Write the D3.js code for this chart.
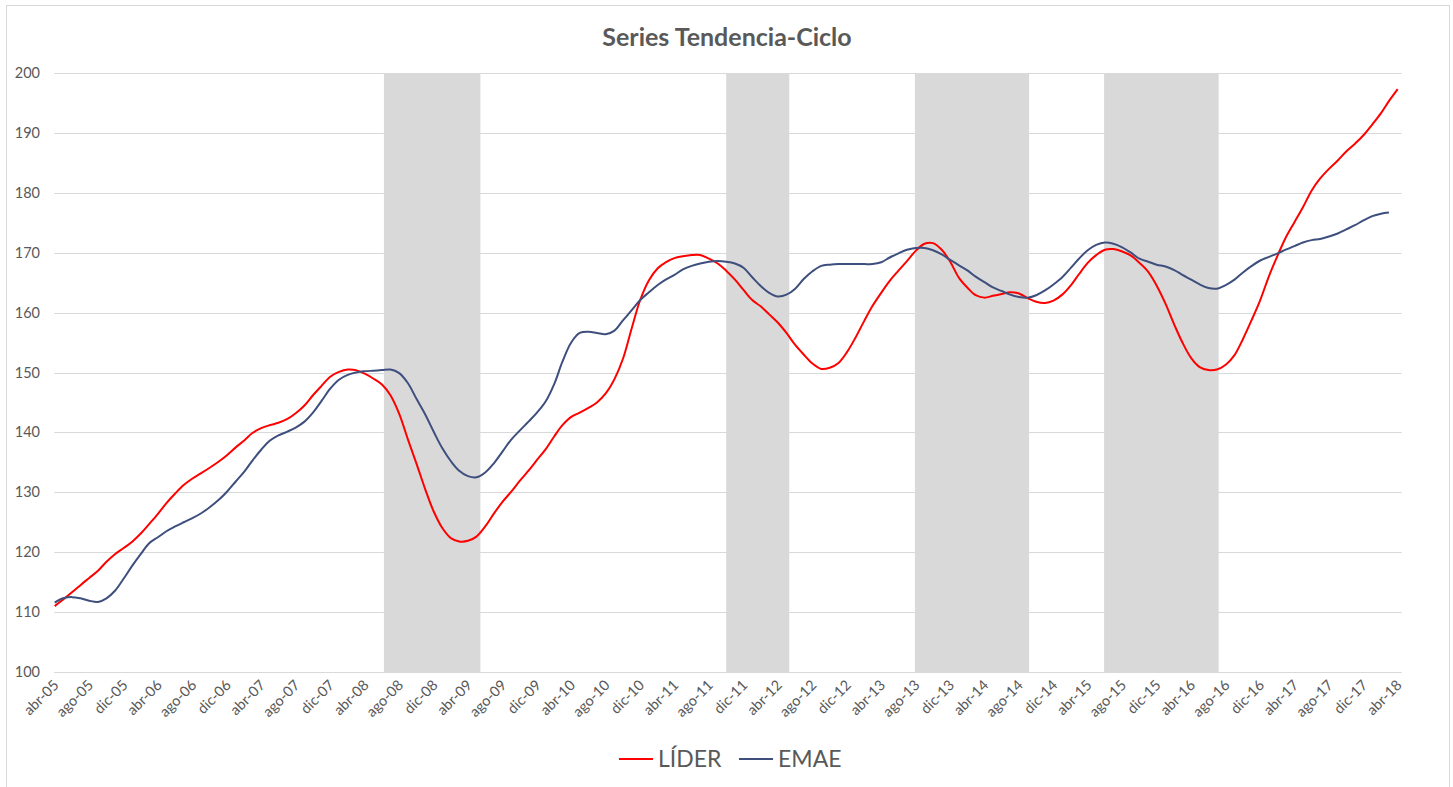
<!DOCTYPE html>
<html>
<head>
<meta charset="utf-8">
<script src="https://cdn.jsdelivr.net/npm/d3@7"></script>
<style>
  body { margin: 0; background: #fff; }
  svg { font-family: Lato, "Open Sans", sans-serif; }
</style>
</head>
<body>
<svg id="chart" width="1453" height="787"></svg>
<script>
// first month of both series, monthly data
var startMonth = "2005-04";
var monthNames = ["ene", "feb", "mar", "abr", "may", "jun", "jul", "ago", "sep", "oct", "nov", "dic"];
var yTicks = [100, 110, 120, 130, 140, 150, 160, 170, 180, 190, 200];

// LÍDER, abr-05 .. abr-18
var lider = [
  111.0, 112.1, 113.3, 114.5, 115.7, 116.9, 118.4, 119.7, 120.7, 121.8,
  123.2, 124.7, 126.4, 128.2, 129.8, 131.2, 132.3, 133.2, 134.1, 135.1,
  136.2, 137.5, 138.7, 139.9, 140.7, 141.2, 141.6, 142.2, 143.2, 144.5,
  146.2, 147.8, 149.3, 150.1, 150.5, 150.4, 149.8, 149.0, 148.0, 146.2,
  143.1, 138.8, 134.8, 130.5, 126.8, 124.0, 122.3, 121.8, 121.9, 122.6,
  124.3, 126.4, 128.4, 130.1, 131.9, 133.6, 135.4, 137.2, 139.4, 141.2,
  142.6, 143.3, 144.1, 145.0, 146.5, 148.9, 152.3, 157.4, 162.1, 165.4,
  167.4, 168.4, 169.1, 169.4, 169.6, 169.6, 169.0, 168.2, 167.0, 165.5,
  163.8, 162.1, 161.0, 159.7, 158.3, 156.6, 154.6, 153.0, 151.5, 150.6,
  150.8, 151.6, 153.4, 155.9, 158.7, 161.1, 163.3, 165.3, 167.0, 168.6,
  170.3, 171.5, 171.6, 170.5, 168.5, 165.8, 164.1, 162.9, 162.5, 162.8,
  163.1, 163.4, 163.2, 162.4, 161.8, 161.6, 162.0, 163.0, 164.6, 166.4,
  168.3, 169.6, 170.5, 170.6, 170.2, 169.5, 168.3, 166.8, 164.5, 161.5,
  158.0, 155.0, 152.4, 150.9, 150.4, 150.5, 151.3, 152.9, 155.6, 158.8,
  162.1, 166.1, 169.6, 172.5, 175.1, 177.6, 180.4, 182.4, 184.0, 185.4,
  186.9, 188.2, 189.6, 191.4, 193.3, 195.3, 197.3
];

// EMAE, abr-05 .. mar-18
var emae = [
  111.6, 112.3, 112.5, 112.3, 111.9, 111.7, 112.3, 113.6, 115.6, 117.8,
  119.8, 121.5, 122.5, 123.5, 124.3, 125.0, 125.7, 126.5, 127.5, 128.7,
  130.1, 131.8, 133.5, 135.3, 137.1, 138.6, 139.5, 140.1, 140.8, 141.8,
  143.3, 145.3, 147.3, 148.8, 149.6, 150.0, 150.2, 150.3, 150.4, 150.5,
  149.9, 148.2, 145.6, 143.0, 140.1, 137.3, 135.1, 133.6, 132.7, 132.5,
  133.3, 134.8, 136.8, 138.8, 140.3, 141.8, 143.3, 145.2, 148.2, 151.8,
  155.0, 156.6, 156.8, 156.6, 156.4, 157.0, 158.7, 160.4, 162.1, 163.4,
  164.6, 165.5, 166.3, 167.2, 167.8, 168.2, 168.5, 168.6, 168.5, 168.2,
  167.5, 165.9, 164.4, 163.3, 162.7, 163.0, 164.0, 165.6, 166.9, 167.8,
  168.0, 168.1, 168.1, 168.1, 168.1, 168.1, 168.4, 169.2, 169.9, 170.5,
  170.8, 170.8, 170.4, 169.7, 168.8, 167.9, 167.0, 166.0, 165.1, 164.2,
  163.6, 163.0, 162.6, 162.5, 162.9, 163.7, 164.7, 165.9, 167.5, 169.0,
  170.4, 171.3, 171.7, 171.5, 170.9, 170.0, 169.0, 168.5, 168.0, 167.7,
  167.1, 166.3, 165.5, 164.7, 164.1, 164.0, 164.6, 165.5, 166.7, 167.8,
  168.7, 169.3, 169.9, 170.5, 171.1, 171.7, 172.1, 172.3, 172.7, 173.2,
  173.9, 174.6, 175.4, 176.1, 176.5, 176.7
];

// shaded periods
var bandStart = ["2008-06-08", "2011-10-01", "2013-07-29", "2015-05-29"];
var bandEnd   = ["2009-05-15", "2012-05-11", "2014-09-06", "2016-07-07"];

var seriesNames = ["LÍDER", "EMAE"];
var seriesColors = ["#ff0000", "#3e4f7e"];

var svg = d3.select("#chart");
var textColor = "#595959";

var parseMonth = d3.timeParse("%Y-%m");
var parseDay = d3.timeParse("%Y-%m-%d");
var t0 = parseMonth(startMonth);
function monthAt(i) { return d3.timeMonth.offset(t0, i); }

var xScale = d3.scaleTime()
    .domain([t0, monthAt(lider.length - 1)])
    .range([54.7, 1397.7]);
var yScale = d3.scaleLinear().domain([100, 200]).range([672, 73]);

// outer border
svg.append("rect")
    .attr("x", 6.5).attr("y", 5.5)
    .attr("width", 1443).attr("height", 1000)
    .attr("fill", "none")
    .attr("stroke", "#d9d9d9");

// title
svg.append("text")
    .attr("x", 727).attr("y", 46)
    .attr("text-anchor", "middle")
    .attr("font-size", 25)
    .attr("font-weight", "bold")
    .attr("fill", textColor)
    .text("Series Tendencia-Ciclo");

// shaded bands
svg.append("g").selectAll("rect")
    .data(bandStart.map(function (s, i) { return { s: parseDay(s), e: parseDay(bandEnd[i]) }; }))
    .enter().append("rect")
    .attr("x", function (d) { return xScale(d.s); })
    .attr("width", function (d) { return xScale(d.e) - xScale(d.s); })
    .attr("y", yScale(200))
    .attr("height", yScale(100) - yScale(200))
    .attr("fill", "#d9d9d9");

// gridlines + y labels
var gx0 = xScale.range()[0] - 0.5, gx1 = xScale.range()[1] + 4;
var grid = svg.append("g");
grid.selectAll("line")
    .data(yTicks)
    .enter().append("line")
    .attr("x1", gx0).attr("x2", gx1)
    .attr("y1", function (d) { return Math.round(yScale(d)) + 0.5; })
    .attr("y2", function (d) { return Math.round(yScale(d)) + 0.5; })
    .attr("stroke", "#d9d9d9")
    .attr("stroke-width", 1);
grid.selectAll("text")
    .data(yTicks)
    .enter().append("text")
    .attr("x", 40)
    .attr("y", function (d) { return yScale(d) + 5; })
    .attr("text-anchor", "end")
    .attr("font-size", 14.5)
    .attr("fill", textColor)
    .text(function (d) { return d; });

// x labels every 4 months
var tickIdx = d3.range(0, lider.length, 4);
svg.append("g").selectAll("text")
    .data(tickIdx)
    .enter().append("text")
    .attr("transform", function (i) {
        return "translate(" + (xScale(monthAt(i)) + 5) + ",686) rotate(-45)";
    })
    .attr("text-anchor", "end")
    .attr("font-size", 14.5)
    .attr("fill", textColor)
    .text(function (i) {
        var d = monthAt(i);
        return monthNames[d.getMonth()] + "-" + d3.timeFormat("%y")(d);
    });

// lines
var line = d3.line()
    .x(function (d, i) { return xScale(monthAt(i)); })
    .y(function (d) { return yScale(d); })
    .curve(d3.curveCatmullRom.alpha(0.5));

[lider, emae].forEach(function (values, k) {
    svg.append("path")
        .datum(values)
        .attr("d", line)
        .attr("fill", "none")
        .attr("stroke", seriesColors[k])
        .attr("stroke-width", 2);
});

// legend
var legendX = [619, 739];
var legend = svg.append("g");
seriesNames.forEach(function (name, k) {
    legend.append("line")
        .attr("x1", legendX[k]).attr("x2", legendX[k] + 34)
        .attr("y1", 759).attr("y2", 759)
        .attr("stroke", seriesColors[k])
        .attr("stroke-width", 2);
    legend.append("text")
        .attr("x", legendX[k] + 39).attr("y", 767)
        .attr("font-size", 23)
        .attr("fill", textColor)
        .text(name);
});
</script>
</body>
</html>
